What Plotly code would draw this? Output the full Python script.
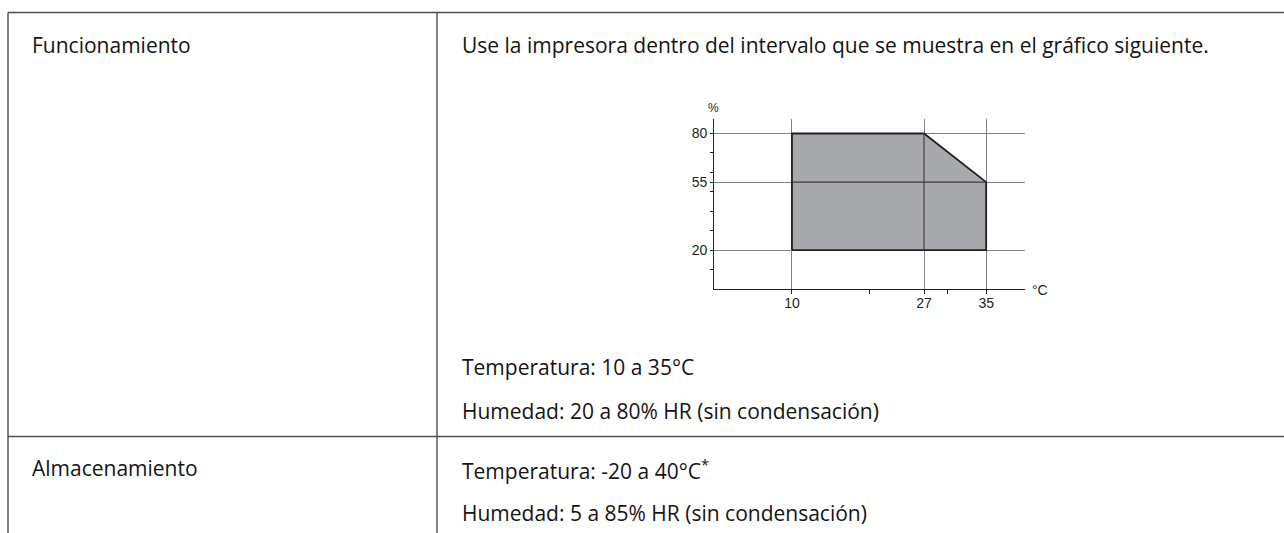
import plotly.graph_objects as go

# ---- data ----
temp_range = [10, 10, 27, 35, 35, 10]      # polygon temperatures (°C)
hum_range = [20, 80, 80, 55, 20, 20]       # polygon humidity (%)
x_ticks = [10, 27, 35]
x_tick_labels = ["10", "27", "35"]
x_minor = [20, 30]
y_ticks = [20, 55, 80]
y_tick_labels = ["20", "55", "80"]
y_minor = [10, 30, 40, 50, 60, 70]
x_limits = [0, 40]
y_limits = [0, 87.3]

row_labels = ["Funcionamiento", "Almacenamiento"]
intro_text = "Use la impresora dentro del intervalo que se muestra en el gráfico siguiente."
op_lines = ["Temperatura: 10 a 35°C", "Humedad: 20 a 80% HR (sin condensación)"]
st_lines = ["Temperatura: -20 a 40°C<sup>*</sup>", "Humedad: 5 a 85% HR (sin condensación)"]

W, H = 1284, 533
def px(x):
    return x / W
def py(y):
    return 1 - y / H

TEXT_FONT = dict(family="Open Sans", size=21, color="#141414")
TICK_FONT = dict(family="Liberation Sans", size=14, color="#231f20")
DARK = "#231f20"
GRID = "#808285"

fig = go.Figure()

# filled operating region
fig.add_trace(go.Scatter(
    x=temp_range, y=hum_range, mode="lines", fill="toself",
    fillcolor="#a7a9ac", line=dict(color=DARK, width=1.8),
    hoverinfo="skip", showlegend=False))

# grid lines inside the region (drawn darker)
inner_x = [temp_range[0], temp_range[3], None, x_ticks[1], x_ticks[1]]
inner_y = [y_ticks[1], y_ticks[1], None, y_ticks[0], y_ticks[2]]
fig.add_trace(go.Scatter(
    x=inner_x, y=inner_y, mode="lines",
    line=dict(color="#3c3c3c", width=1.1),
    hoverinfo="skip", showlegend=False))

fig.update_layout(
    width=W, height=H,
    margin=dict(l=0, r=0, t=0, b=0),
    paper_bgcolor="white", plot_bgcolor="white",
    showlegend=False,
    xaxis=dict(
        domain=[714.3 / W, 1025 / W], range=x_limits,
        tickmode="array", tickvals=x_ticks, ticktext=x_tick_labels,
        showgrid=True, gridcolor=GRID, gridwidth=1,
        showline=True, linecolor=DARK, linewidth=1.3,
        ticks="outside", ticklen=4, tickcolor=DARK, tickwidth=1,
        ticklabelstandoff=-3,
        minor=dict(tickmode="array", tickvals=x_minor, ticks="outside",
                   ticklen=4, tickcolor=DARK, tickwidth=1, showgrid=False),
        zeroline=False, tickfont=TICK_FONT, fixedrange=True,
    ),
    yaxis=dict(
        domain=[py(289), py(119.3)], range=y_limits,
        tickmode="array", tickvals=y_ticks, ticktext=y_tick_labels,
        showgrid=True, gridcolor=GRID, gridwidth=1,
        showline=True, linecolor=DARK, linewidth=1.3,
        ticks="outside", ticklen=3, tickcolor=DARK, tickwidth=1,
        minor=dict(tickmode="array", tickvals=y_minor, ticks="outside",
                   ticklen=3, tickcolor=DARK, tickwidth=1, showgrid=False),
        zeroline=False, tickfont=TICK_FONT, fixedrange=True,
    ),
)

# axis unit labels
fig.add_annotation(x=px(713), y=py(108), xref="paper", yref="paper",
                   text="%", showarrow=False, xanchor="center", yanchor="middle",
                   font=dict(family="Liberation Sans", size=12, color=DARK))
fig.add_annotation(x=px(1030), y=py(289.5), xref="paper", yref="paper",
                   text="°C", showarrow=False, xanchor="left", yanchor="middle",
                   font=dict(family="Liberation Sans", size=14, color=DARK))

# table borders
LINE = dict(color="#4d4d4d", width=1.4)
shapes = [
    dict(type="line", xref="paper", yref="paper", x0=px(8), x1=px(W), y0=py(12.5), y1=py(12.5), line=LINE),
    dict(type="line", xref="paper", yref="paper", x0=px(8), x1=px(W), y0=py(436.5), y1=py(436.5), line=LINE),
    dict(type="line", xref="paper", yref="paper", x0=px(8), x1=px(8), y0=py(12.5), y1=py(H), line=LINE),
    dict(type="line", xref="paper", yref="paper", x0=px(437), x1=px(437), y0=py(12.5), y1=py(H), line=LINE),
]
fig.update_layout(shapes=shapes)

# table text
def add_text(txt, x, y):
    fig.add_annotation(x=px(x), y=py(y), xref="paper", yref="paper",
                       text=txt, showarrow=False, xanchor="left", yanchor="middle",
                       font=TEXT_FONT, borderpad=0)

add_text(row_labels[0], 31, 45.5)
add_text(intro_text, 461, 45.5)
add_text(op_lines[0], 460.5, 367)
add_text(op_lines[1], 460.5, 410.5)
add_text(row_labels[1], 31, 468)
add_text(st_lines[0], 460.5, 469.5)
add_text(st_lines[1], 460.5, 513)

fig.write_html("out.html",
               config={"displayModeBar": False},
               post_script="document.body.style.margin='0';document.body.style.overflow='hidden';")
